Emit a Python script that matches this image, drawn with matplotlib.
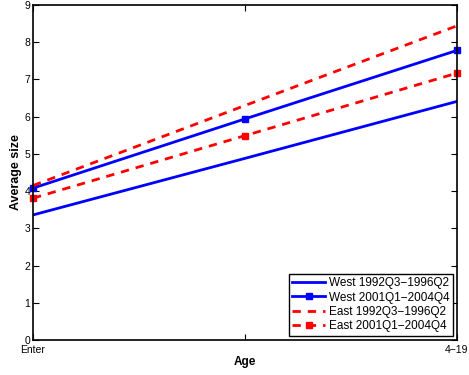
import matplotlib
matplotlib.use("Agg")
import matplotlib.pyplot as plt

plt.rcParams['font.family'] = ['Liberation Sans', 'DejaVu Sans']

ages = ["Enter", "", "4\u221219"]
west_92 = [3.36, 4.88, 6.41]
west_01 = [4.08, 5.94, 7.78]
east_92 = [4.15, 6.30, 8.44]
east_01 = [3.81, 5.49, 7.17]

x = range(1, len(ages) + 1)

fig = plt.figure(figsize=(4.69, 3.75), dpi=100)
ax = fig.add_axes([0.0704, 0.0933, 0.904, 0.8934])

ax.plot(x, west_92, color='#0000ff', lw=2, label='West 1992Q3\u22121996Q2')
ax.plot(x, west_01, color='#0000ff', lw=2, marker='s', ms=5, clip_on=False,
        label='West 2001Q1\u22122004Q4')
ax.plot(x, east_92, color='#ff0000', lw=2, ls=(0, (3, 2.5)), label='East 1992Q3\u22121996Q2')
ax.plot(x, east_01, color='#ff0000', lw=2, ls=(0, (3, 2.5)), marker='s', ms=5, clip_on=False,
        label='East 2001Q1\u22122004Q4')

ax.set_xlim(1, 3)
ax.set_ylim(0, 9)
ax.set_xticks(list(x))
ax.set_xticklabels(ages)
ax.set_yticks(range(0, 10))
ax.tick_params(direction='in', top=True, right=True, labelsize=7.5, length=4, width=0.8, pad=2)
ax.tick_params(axis='x', pad=3.5)
for s in ax.spines.values():
    s.set_linewidth(1.2)

ax.set_xlabel('Age', fontsize=8.5, fontweight='bold', labelpad=1)
ax.set_ylabel('Average size', fontsize=9, fontweight='bold', labelpad=2)

leg = ax.legend(loc='lower right', fontsize=8.5, fancybox=False, framealpha=1,
                edgecolor='black', borderpad=0.3, labelspacing=0.2,
                handlelength=2.8, handletextpad=0.3, borderaxespad=0.35)
leg.get_frame().set_linewidth(1)

fig.savefig('out.png', dpi=100)
